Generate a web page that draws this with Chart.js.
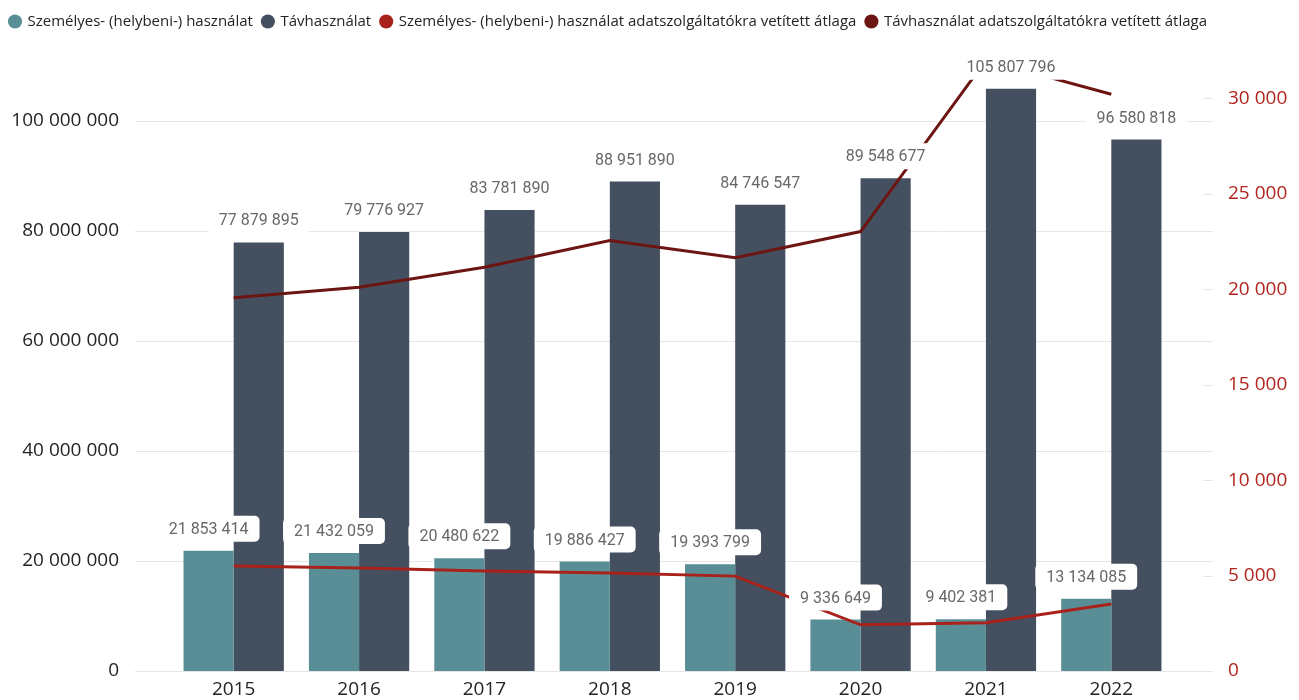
<!DOCTYPE html>
<html>
<head>
<meta charset="utf-8">
<title>Személyes és távhasználat</title>
<script src="https://cdn.jsdelivr.net/npm/chart.js@4/dist/chart.umd.min.js"></script>
<style>
    html, body { margin: 0; padding: 0; background: #ffffff; }
    #wrap { width: 1299px; height: 700px; }
</style>
</head>
<body>
<div id="wrap"><canvas id="usageChart" width="1299" height="700"></canvas></div>
<script>
    'use strict';

    // Chart data
    var years = ['2015', '2016', '2017', '2018', '2019', '2020', '2021', '2022'];
    var personalUse = [21853414, 21432059, 20480622, 19886427, 19393799, 9336649, 9402381, 13134085];
    var remoteUse = [77879895, 79776927, 83781890, 88951890, 84746547, 89548677, 105807796, 96580818];
    var personalAvg = [5500, 5400, 5240, 5130, 4970, 2420, 2530, 3510];
    var remoteAvg = [19550, 20100, 21150, 22550, 21650, 23020, 32000, 30210];

    // Axis ticks
    var leftTicks = [0, 20000000, 40000000, 60000000, 80000000, 100000000];
    var rightTicks = [0, 5000, 10000, 15000, 20000, 25000, 30000];

    var seriesNames = [
        'Személyes- (helybeni-) használat',
        'Távhasználat',
        'Személyes- (helybeni-) használat adatszolgáltatókra vetített átlaga',
        'Távhasználat adatszolgáltatókra vetített átlaga'
    ];
    var seriesColors = ['#5a8e96', '#44505f', '#a8221b', '#6d1512'];

    var uiFont = '"Open Sans", "Noto Sans", sans-serif';

    // 12 345 678 style numbers
    function fmt(v) {
        return String(v).replace(/\B(?=(\d{3})+(?!\d))/g, ' ');
    }

    // Make the legend take a fixed height
    var legendHeight = {
        id: 'legendHeight',
        beforeInit: function (chart) {
            var fit = chart.legend.fit;
            chart.legend.fit = function () {
                fit.bind(chart.legend)();
                this.height = 46;
            };
        }
    };

    // Horizontal grid lines wider than the plot, plus short ticks on the right axis
    var gridLines = {
        id: 'gridLines',
        beforeDatasetsDraw: function (chart) {
            var ctx = chart.ctx;
            var area = chart.chartArea;
            var y = chart.scales.y;
            var y1 = chart.scales.y1;
            ctx.save();
            ctx.strokeStyle = '#e6e6e6';
            ctx.lineWidth = 1;
            y.ticks.forEach(function (t) {
                var py = Math.round(y.getPixelForValue(t.value)) + 0.5;
                ctx.beginPath();
                ctx.moveTo(area.left - 36, py);
                ctx.lineTo(area.right + 39, py);
                ctx.stroke();
            });
            y1.ticks.forEach(function (t) {
                var py = Math.round(y1.getPixelForValue(t.value)) + 0.5;
                ctx.beginPath();
                ctx.moveTo(area.right + 29, py);
                ctx.lineTo(area.right + 39, py);
                ctx.stroke();
            });
            ctx.restore();
        }
    };

    // Value labels in white rounded boxes above the bars
    var barLabels = {
        id: 'barLabels',
        afterDatasetsDraw: function (chart) {
            var ctx = chart.ctx;
            ctx.save();
            ctx.font = '16px Roboto, "DejaVu Sans", sans-serif';
            ctx.textAlign = 'center';
            ctx.textBaseline = 'middle';
            [0, 1].forEach(function (di) {
                var meta = chart.getDatasetMeta(di);
                var values = chart.data.datasets[di].data;
                meta.data.forEach(function (bar, i) {
                    var text = fmt(values[i]);
                    var w = ctx.measureText(text).width + 22;
                    var cy = bar.y - 22;
                    ctx.fillStyle = '#ffffff';
                    ctx.beginPath();
                    ctx.roundRect(bar.x - w / 2, cy - 13, w, 26, 5);
                    ctx.fill();
                    ctx.fillStyle = '#686868';
                    ctx.fillText(text, bar.x, cy + 1);
                });
            });
            ctx.restore();
        }
    };

    // Fixed axis width, and no extra top/bottom padding from the tick labels
    function fixWidth(width) {
        return function (scale) {
            scale.width = width;
            scale.paddingTop = 0;
            scale.paddingBottom = 0;
        };
    }

    function useTicks(values) {
        return function (scale) {
            scale.ticks = values.map(function (v) { return { value: v }; });
        };
    }

    var noGrid = { display: false, drawTicks: false, tickLength: 0 };

    var ctx = document.getElementById('usageChart').getContext('2d');
    var usageChart = new Chart(ctx, {
        type: 'bar',
        data: {
            labels: years,
            datasets: [{
                label: seriesNames[0],
                data: personalUse,
                backgroundColor: seriesColors[0],
                yAxisID: 'y',
                order: 1,
                categoryPercentage: 0.8,
                barPercentage: 1.0
            }, {
                label: seriesNames[1],
                data: remoteUse,
                backgroundColor: seriesColors[1],
                yAxisID: 'y',
                order: 1,
                categoryPercentage: 0.8,
                barPercentage: 1.0
            }, {
                type: 'line',
                label: seriesNames[2],
                data: personalAvg,
                borderColor: seriesColors[2],
                backgroundColor: seriesColors[2],
                borderWidth: 3,
                pointRadius: 0,
                tension: 0,
                yAxisID: 'y1',
                order: 0
            }, {
                type: 'line',
                label: seriesNames[3],
                data: remoteAvg,
                borderColor: seriesColors[3],
                backgroundColor: seriesColors[3],
                borderWidth: 3,
                pointRadius: 0,
                tension: 0,
                yAxisID: 'y1',
                order: 0
            }]
        },
        options: {
            responsive: false,
            animation: false,
            layout: { padding: { top: 4, left: 0, right: 0, bottom: 0 } },
            plugins: {
                tooltip: { enabled: false },
                legend: {
                    position: 'top',
                    align: 'start',
                    labels: {
                        usePointStyle: true,
                        pointStyle: 'circle',
                        boxHeight: 10,
                        boxWidth: 10,
                        padding: 10,
                        color: '#252423',
                        font: { family: uiFont, size: 15 },
                        sort: function (a, b) {
                            return a.datasetIndex - b.datasetIndex;
                        },
                        generateLabels: function (chart) {
                            var items = Chart.defaults.plugins.legend.labels.generateLabels(chart);
                            items.forEach(function (item) {
                                item.fillStyle = seriesColors[item.datasetIndex];
                                item.strokeStyle = seriesColors[item.datasetIndex];
                                item.lineWidth = 0;
                                item.pointStyle = 'circle';
                            });
                            return items;
                        }
                    }
                }
            },
            scales: {
                x: {
                    grid: noGrid,
                    border: { display: false },
                    ticks: {
                        color: '#252423',
                        padding: 7,
                        font: { family: uiFont, size: 19 }
                    },
                    afterFit: function (scale) { scale.height = 29; }
                },
                y: {
                    position: 'left',
                    min: 0,
                    max: 112850000,
                    grid: noGrid,
                    border: { display: false },
                    afterBuildTicks: useTicks(leftTicks),
                    ticks: {
                        padding: 52,
                        color: '#252423',
                        font: { family: uiFont, size: 19 },
                        callback: function (v) { return fmt(v); }
                    },
                    afterFit: fixWidth(171)
                },
                y1: {
                    position: 'right',
                    min: 0,
                    max: 32530,
                    grid: noGrid,
                    border: { display: false },
                    afterBuildTicks: useTicks(rightTicks),
                    ticks: {
                        padding: 54,
                        color: '#b0261e',
                        font: { family: uiFont, size: 19 },
                        callback: function (v) { return fmt(v); }
                    },
                    afterFit: fixWidth(125)
                }
            }
        },
        plugins: [legendHeight, gridLines, barLabels]
    });
</script>
</body>
</html>
